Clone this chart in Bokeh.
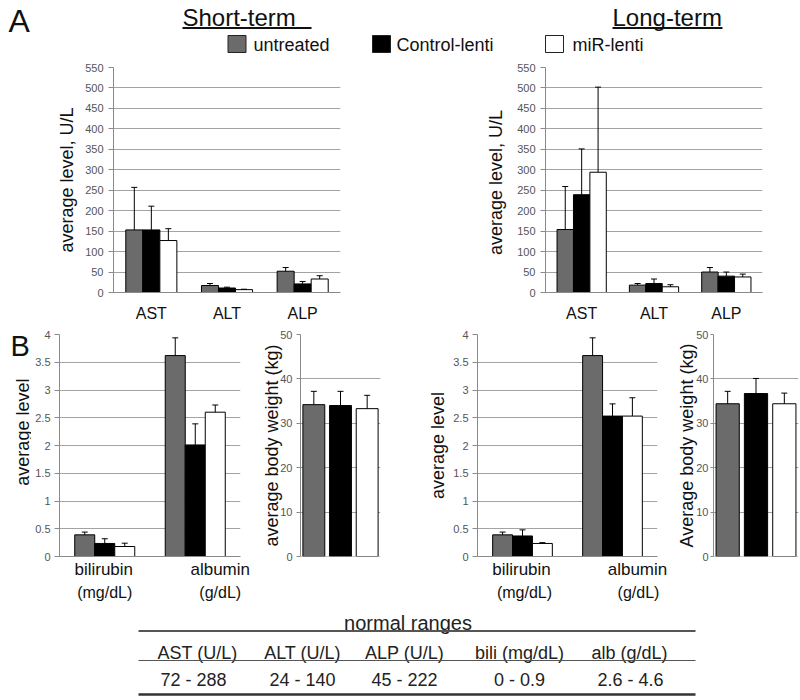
import math
from bokeh.plotting import figure
from bokeh.models import (Range1d, FactorRange, FixedTicker, NumeralTickFormatter,
                          Whisker, TeeHead, ColumnDataSource, Span, LinearAxis,
                          CustomJSTickFormatter)
from bokeh.transform import dodge
from bokeh.layouts import column, row
from bokeh.embed import file_html
from bokeh.resources import INLINE
from bokeh.core.properties import value

FONT = "Liberation Sans"

# ---------------- data ----------------
groups = ["untreated", "Control-lenti", "miR-lenti"]
group_colors = ["#6b6b6b", "#000000", "#ffffff"]

enzymes = ["AST", "ALT", "ALP"]
# short-term enzymes (U/L): mean and upper error (SD)
short_untreated = [153, 17, 52]
short_untreated_sd = [104, 5, 9]
short_control = [153, 11, 21]
short_control_sd = [58, 2, 6]
short_mir = [127, 7, 33]
short_mir_sd = [29, 1, 8]
# long-term enzymes (U/L)
long_untreated = [154, 18, 50]
long_untreated_sd = [105, 4, 11]
long_control = [239, 22, 40]
long_control_sd = [112, 11, 10]
long_mir = [294, 14, 38]
long_mir_sd = [208, 5, 7]

chem = ["bilirubin", "albumin"]
chem_units = ["(mg/dL)", "(g/dL)"]
# short-term bilirubin / albumin
short_chem_untreated = [0.39, 3.62]
short_chem_untreated_sd = [0.05, 0.32]
short_chem_control = [0.235, 2.01]
short_chem_control_sd = [0.085, 0.38]
short_chem_mir = [0.18, 2.60]
short_chem_mir_sd = [0.06, 0.13]
# long-term bilirubin / albumin
long_chem_untreated = [0.39, 3.62]
long_chem_untreated_sd = [0.05, 0.32]
long_chem_control = [0.37, 2.53]
long_chem_control_sd = [0.11, 0.22]
long_chem_mir = [0.235, 2.53]
long_chem_mir_sd = [0.015, 0.33]

# body weight (kg), one value per group
short_weight = [34.2, 34.0, 33.3]
short_weight_sd = [3.0, 3.2, 3.0]
long_weight = [34.4, 36.7, 34.4]
long_weight_sd = [2.8, 3.4, 2.4]

enzyme_ticks = [0, 50, 100, 150, 200, 250, 300, 350, 400, 450, 500, 550]
chem_ticks = [0, 0.5, 1, 1.5, 2, 2.5, 3, 3.5, 4]
weight_ticks = [0, 10, 20, 30, 40, 50]

table_columns = ["AST (U/L)", "ALT (U/L)", "ALP (U/L)", "bili (mg/dL)", "alb (g/dL)"]
table_ranges = ["72 - 288", "24 - 140", "45 - 222", "0 - 0.9", "2.6 - 4.6"]

# ---------------- helpers ----------------
GRID = "#a3a3a3"
AXIS = "#8a8a8a"
INK = "#111111"


def base_fig(width, height, left, right, top, bottom, x_range, ticks, ylabel,
             tick_out=5, lab_standoff=5, axis_standoff=5, show_x=True):
    p = figure(width=width, height=height, x_range=x_range,
               y_range=Range1d(ticks[0], ticks[-1]),
               x_axis_location="below" if show_x else None,
               output_backend="svg", toolbar_location=None,
               min_border_left=left, min_border_right=right,
               min_border_top=top, min_border_bottom=bottom)
    p.outline_line_color = None
    p.background_fill_color = "white"
    p.border_fill_color = "white"
    p.xgrid.visible = False
    p.ygrid.ticker = FixedTicker(ticks=ticks)
    p.ygrid.grid_line_color = GRID
    p.ygrid.grid_line_width = 1
    ya = p.yaxis[0]
    ya.ticker = FixedTicker(ticks=ticks)
    ya.formatter = NumeralTickFormatter(format="0.[0]")
    ya.major_label_text_font = FONT
    ya.major_label_text_font_size = "11px"
    ya.major_label_text_color = "#555555"
    ya.axis_line_color = AXIS
    ya.major_tick_line_color = AXIS
    ya.major_tick_out = tick_out
    ya.major_tick_in = 0
    ya.minor_tick_line_color = None
    ya.major_label_standoff = lab_standoff
    if ylabel:
        ya.axis_label = ylabel
        ya.axis_label_text_font = FONT
        ya.axis_label_text_font_size = "18px"
        ya.axis_label_text_font_style = "normal"
        ya.axis_label_text_color = INK
        ya.axis_label_standoff = axis_standoff
    if show_x:
        xa = p.xaxis[0]
        xa.axis_line_color = AXIS
        xa.major_tick_line_color = None
        xa.minor_tick_line_color = None
        xa.major_label_text_font = FONT
        xa.major_label_text_font_size = "16px"
        xa.major_label_text_color = INK
        xa.major_label_standoff = 6
    return p


def add_whisker(p, base, src):
    p.add_layout(Whisker(base=base, lower="mean", upper="upper", source=src,
                         lower_head=None,
                         upper_head=TeeHead(size=6, line_color="black", line_width=1),
                         line_color="black", line_width=1, level="annotation"))


def grouped_factor(p, cats, series, width):
    offs = [-width, 0, width]
    for (means, sds), off, color in zip(series, offs, group_colors):
        src = ColumnDataSource(dict(cat=cats, mean=means,
                                    upper=[m + s for m, s in zip(means, sds)]))
        xs = dodge("cat", off, range=p.x_range)
        p.vbar(x=xs, top="mean", width=width, bottom=0, source=src,
               fill_color=color, line_color="black", line_width=1)
        add_whisker(p, xs, src)


def grouped_numeric(p, cats, series, width):
    offs = [-width, 0, width]
    for (means, sds), off, color in zip(series, offs, group_colors):
        src = ColumnDataSource(dict(x=[i + 0.5 + off for i in range(len(cats))], mean=means,
                                    upper=[m + s for m, s in zip(means, sds)]))
        p.vbar(x="x", top="mean", width=width, bottom=0, source=src,
               fill_color=color, line_color="black", line_width=1)
        add_whisker(p, "x", src)


def label_axis(p, labels, positions, size, standoff, line_color=None):
    ax = LinearAxis(ticker=FixedTicker(ticks=positions),
                    formatter=CustomJSTickFormatter(args=dict(labels=labels),
                                                    code="return labels[index]"))
    ax.axis_line_color = line_color
    ax.major_tick_line_color = None
    ax.minor_tick_line_color = None
    ax.major_tick_out = 0
    ax.major_tick_in = 0
    ax.major_label_text_font = FONT
    ax.major_label_text_font_size = size
    ax.major_label_text_color = INK
    ax.major_label_standoff = standoff
    p.add_layout(ax, "below")
    return ax


def text_fig(width, height):
    p = figure(width=width, height=height, x_range=Range1d(0, width),
               y_range=Range1d(height, 0), output_backend="svg",
               toolbar_location=None, min_border=0)
    p.axis.visible = False
    p.grid.visible = False
    p.outline_line_color = None
    p.background_fill_color = "white"
    p.border_fill_color = "white"
    return p


def add_text(p, xs, ys, texts, size, align="left", color=INK, angle=0):
    p.text(x=xs, y=ys, text=texts, text_font=value(FONT), text_font_size=size,
           text_align=align, text_baseline="middle", text_color=color, angle=angle)


# ---------------- header (panel letter, titles, legend) ----------------
header = text_fig(800, 58)
add_text(header, [8], [20], ["A"], "32px")
titles = ["Short-term", "Long-term"]
title_x = [182, 612]
title_underline_end = [311, 722]
add_text(header, title_x, [16.5, 16.5], titles, "24px")
header.segment(x0=title_x, y0=[27.5, 27.5], x1=title_underline_end, y1=[27.5, 27.5],
               line_color=INK, line_width=2)
legend_box_x = [236.5, 381, 554]
legend_text_x = [253, 396, 572]
header.rect(x=legend_box_x, y=[43.5] * 3, width=18, height=17,
            fill_color=group_colors, line_color="#222222", line_width=1)
add_text(header, legend_text_x, [44] * 3, groups, "18px")

# ---------------- panel A ----------------
pa1 = base_fig(400, 266, 113, 60, 9, 27, FactorRange(factors=enzymes, range_padding=0),
               enzyme_ticks, "average level, U/L", 5, 5, 5)
grouped_factor(pa1, enzymes, [(short_untreated, short_untreated_sd),
                              (short_control, short_control_sd),
                              (short_mir, short_mir_sd)], 0.225)

pa2 = base_fig(400, 266, 145, 38, 9, 27, FactorRange(factors=enzymes, range_padding=0),
               enzyme_ticks, "average level,  U/L", 5, 5, 8)
grouped_factor(pa2, enzymes, [(long_untreated, long_untreated_sd),
                              (long_control, long_control_sd),
                              (long_mir, long_mir_sd)], 0.227)

# ---------------- panel B ----------------
ROW_H = 282
CHEM_FRAME_W = [181, 180]


def chem_fig(width, left, right, frame_w, series, ylabel, axis_standoff,
             name_shift, unit_shift):
    p = base_fig(width, ROW_H, left, right, 10, ROW_H - 10 - 222, Range1d(0, len(chem)),
                 chem_ticks, ylabel, 5, 4, axis_standoff, show_x=False)
    grouped_numeric(p, chem, series, 0.221)
    per = frame_w / len(chem)
    label_axis(p, chem, [i + 0.5 + s / per for i, s in enumerate(name_shift)],
               "17px", 3, line_color=AXIS)
    label_axis(p, chem_units, [i + 0.5 + s / per for i, s in enumerate(unit_shift)],
               "16px", 2)
    return p


def weight_fig(width, left, right, top, frame_h, means, sds, ylabel, tick_out, lab_so, axis_so):
    p = base_fig(width, ROW_H, left, right, top, ROW_H - top - frame_h,
                 FactorRange(factors=groups, range_padding=0),
                 weight_ticks, ylabel, tick_out, lab_so, axis_so, show_x=False)
    p.add_layout(Span(location=0, dimension="width", line_color=AXIS, line_width=1))
    src = ColumnDataSource(dict(grp=groups, mean=means, color=group_colors,
                                upper=[m + s for m, s in zip(means, sds)]))
    p.vbar(x="grp", top="mean", bottom=0, width=0.82, source=src,
           fill_color="color", line_color="black", line_width=1)
    add_whisker(p, "grp", src)
    return p


# left strip: panel letter "B" and the first y-axis title
pb0 = text_fig(31, ROW_H)
add_text(pb0, [10], [14], ["B"], "29px")
add_text(pb0, [22], [124], ["average level"], "18px", align="center", angle=math.pi / 2)

pb1 = chem_fig(222, 28, 13, CHEM_FRAME_W[0],
               [(short_chem_untreated, short_chem_untreated_sd),
                (short_chem_control, short_chem_control_sd),
                (short_chem_mir, short_chem_mir_sd)], None, 0,
               [-1, 25], [0, 25])
pb2 = weight_fig(140, 47, 13, 9, 225, short_weight, short_weight_sd,
                 "average body weight (kg)", 4, 4, -5)
pb3 = chem_fig(275, 84, 11, CHEM_FRAME_W[1],
               [(long_chem_untreated, long_chem_untreated_sd),
                (long_chem_control, long_chem_control_sd),
                (long_chem_mir, long_chem_mir_sd)], "average level", 2,
               [-1, 25], [2, 26])
pb4 = weight_fig(132, 45, 2, 6, 227, long_weight, long_weight_sd,
                 "Average body weight (kg)", 3, 2, -4)

# ---------------- normal ranges table ----------------
table_header_x = [197, 302, 404, 519, 629]
table_value_x = [193, 302, 404, 519, 630]
tbl = text_fig(800, 94)
add_text(tbl, [407.5], [16], ["normal ranges"], "20px", align="center", color="#222222")
tbl.segment(x0=[138], y0=[24.5], x1=[695], y1=[24.5], line_color="#555555", line_width=2)
add_text(tbl, table_header_x, [46] * 5, table_columns, "18px", align="center", color="#222222")
tbl.segment(x0=[138], y0=[54], x1=[695], y1=[54], line_color="#555555", line_width=1)
add_text(tbl, table_value_x, [73] * 5, table_ranges, "18px", align="center", color="#222222")
tbl.segment(x0=[138], y0=[88], x1=[695], y1=[88], line_color="#333333", line_width=2.5)

layout = column(header, row(pa1, pa2), row(pb0, pb1, pb2, pb3, pb4), tbl)

open("out.html", "w").write(file_html(layout, INLINE))
